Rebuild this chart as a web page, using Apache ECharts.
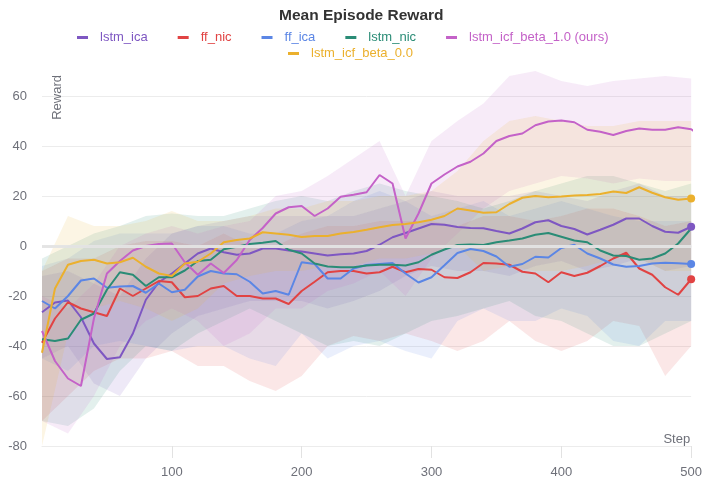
<!DOCTYPE html>
<html>
<head>
<meta charset="utf-8">
<title>Mean Episode Reward</title>
<script src="https://cdn.jsdelivr.net/npm/echarts@6/dist/echarts.min.js"></script>
<style>
html, body { margin: 0; padding: 0; background: #fff; }
#chart { width: 705px; height: 482px; }
</style>
</head>
<body>
<div id="chart"></div>
<script>
// x positions of the mean curves (every 10 steps) and of the spread bands (every 20 steps)
const steps = [0, 10, 20, 30, 40, 50, 60, 70, 80, 90, 100, 110, 120, 130, 140, 150, 160, 170, 180, 190, 200,
  210, 220, 230, 240, 250, 260, 270, 280, 290, 300, 310, 320, 330, 340, 350, 360, 370, 380, 390, 400,
  410, 420, 430, 440, 450, 460, 470, 480, 490, 500]
const bandSteps = [0, 20, 40, 60, 80, 100, 120, 140, 160, 180, 200, 220, 240, 260, 280, 300, 320, 340, 360, 380, 400, 420, 440, 460, 480, 500]

const names = ['lstm_ica', 'ff_nic', 'ff_ica', 'lstm_nic', 'lstm_icf_beta_1.0 (ours)', 'lstm_icf_beta_0.0']
const colors = ['#7e57c2', '#e14343', '#5b86e5', '#2a8c76', '#c462c8', '#ebb02d']

// mean reward
const lstmIca = [-26.5, -22.6, -21.8, -28.5, -39, -45.2, -44.5, -35, -21.5, -14.5, -11, -7, -3, -1, -2.5, -3.5, -3, -1, -1, -1.8, -2.2,
  -3, -3.8, -3.3, -3, -2, 0.5, 3.5, 5.2, 7, 8.8, 8.5, 7.6, 7.2, 7.1, 6, 5, 7, 9.5, 10.3, 8,
  6.8, 4.6, 6.5, 8.5, 11, 11, 8, 5.7, 5.3, 7.7]
const ffNic = [-38.7, -29, -22.5, -25, -26.5, -28, -17, -20, -17, -14, -14.5, -20.5, -20, -17, -16, -20, -20, -21, -21, -23.2, -18,
  -14.3, -10.5, -10, -10, -11, -10.5, -8.3, -10.5, -9.2, -9.5, -12.5, -12.8, -10.5, -6.8, -7, -7.5, -10.3, -11, -14.5, -10.5,
  -12, -10.7, -8, -5, -2.7, -9, -11.5, -16.5, -19.5, -13.3]
const ffIca = [-22, -25, -20, -13.8, -13, -16.7, -16.2, -16, -18.7, -15, -18.5, -17.5, -12.2, -10, -11, -11.3, -14.3, -19, -18, -19.5, -6.5,
  -7.2, -13, -13, -9, -7.6, -7.2, -6.8, -11, -14.6, -12.5, -7.7, -2.8, -1.2, -2, -4.2, -8.3, -7.2, -4.3, -4.6, -0.8,
  0.5, -3, -5, -7.4, -8.3, -8, -7, -6.7, -6.9, -7.2]
const lstmNic = [-37.3, -38, -37, -29.5, -27, -17.5, -10.5, -11.5, -16, -12.5, -12.5, -9.8, -6, -5.5, -1.3, -0.3, 0.8, 1.3, 2, -1.5, -3,
  -7, -8.2, -8.5, -8.5, -7.8, -7.5, -7.5, -7.8, -6.5, -3.5, -1.4, 0.4, 0.6, 0.4, 1.5, 2.2, 3, 4.5, 5.2, 3.7,
  2.2, 1.5, -1.8, -3.8, -4, -5.5, -5, -3, 1, 7]
const icfBeta10 = [-34, -46, -53, -56, -29, -11, -6, -1.8, 0, 0.8, 1, -6.5, -11.5, -7, -10.8, -5.6, 2.4, 7.2, 13, 15.5, 16,
  12, 15, 19.7, 20.5, 21.5, 28.4, 25, 3, 13, 25, 28.6, 31.8, 33.7, 37, 42, 44, 45, 48.3, 49.8, 50.2,
  49.5, 46.5, 45.7, 44.4, 46, 47, 46.5, 46.5, 47.5, 46.7]
const icfBeta00 = [-42.7, -17, -7.5, -6, -5.5, -7, -6.5, -4.7, -8.3, -11, -12, -7, -6.3, -3, 1.5, 2.4, 3, 5.5, 5, 4.5, 3.6,
  4, 4, 5, 5.6, 6.5, 7.5, 8.4, 8.8, 9.5, 10.5, 12, 15, 14.2, 13.3, 13.5, 16.8, 19.3, 20, 19.5, 19.8,
  20.2, 20.4, 20.8, 21.8, 21.2, 23.5, 21.3, 19.5, 18.5, 19]

// two curves run a little past the last tick
const tailStep = 506
const lstmNicTail = 9
const icfBeta10Tail = 44.5

// spread bands (low / high)
const lstmIcaLow = [-45, -40, -55, -60, -45, -35, -28, -25, -22, -22, -22, -25, -22, -18, -12, -8, -10, -10, -12, -8, -6, -10, -8, -5, -10, -8]
const lstmIcaHigh = [-12, -10, -15, -20, -5, 5, 8, 10, 12, 12, 12, 12, 12, 15, 18, 22, 20, 20, 20, 22, 20, 18, 22, 25, 20, 20]
const ffNicLow = [-70, -60, -50, -45, -45, -42, -48, -48, -54, -58, -52, -40, -36, -38, -35, -38, -42, -38, -30, -38, -42, -38, -30, -32, -52, -40]
const ffNicHigh = [-10, -5, -5, 0, 2, 2, 0, 5, 0, 0, 5, 8, 8, 10, 10, 10, 8, 12, 12, 10, 12, 15, 15, 12, 8, 10]
const ffIcaLow = [-45, -50, -40, -38, -40, -42, -40, -40, -45, -48, -35, -45, -40, -38, -42, -45, -30, -25, -30, -30, -25, -28, -38, -40, -30, -30]
const ffIcaHigh = [-8, -5, 2, 5, 5, 5, 8, 8, 5, 5, 10, 12, 18, 22, 18, 12, 15, 18, 12, 15, 18, 15, 12, 10, 10, 10]
const lstmNicLow = [-70, -72, -65, -50, -40, -42, -35, -30, -25, -30, -35, -40, -38, -40, -35, -30, -28, -25, -22, -28, -30, -35, -40, -40, -35, -30]
const lstmNicHigh = [-5, 0, 5, 8, 12, 13, 12, 12, 15, 18, 20, 18, 22, 25, 22, 20, 18, 15, 18, 22, 25, 28, 28, 25, 22, 25]
const icfBeta10Low = [-70, -75, -60, -40, -30, -25, -30, -40, -35, -25, -25, -18, -15, -10, -20, -5, 5, 15, 22, 25, 28, 27, 25, 27, 26, 26]
const icfBeta10High = [-20, -25, -15, 0, 5, 8, 5, 8, 10, 20, 22, 28, 35, 42, 20, 42, 50, 57, 68, 70, 66, 64, 66, 67, 68, 67]
const icfBeta00Low = [-80, -35, -25, -22, -25, -30, -25, -15, -12, -10, -10, -8, -8, -5, -5, -3, 0, -10, -8, -10, -10, -8, -5, -5, -10, -10]
const icfBeta00High = [-10, 12, 8, 8, 10, 14, 10, 10, 12, 15, 15, 18, 18, 20, 20, 22, 30, 42, 50, 52, 50, 48, 48, 50, 50, 50]

const yTicks = { min: -80, max: 72, interval: 20 }
const xTicks = { min: 0, max: 500, interval: 100 }

const means = [lstmIca, ffNic, ffIca, lstmNic, icfBeta10, icfBeta00]
const tails = [null, null, null, lstmNicTail, icfBeta10Tail, null]
const lows = [lstmIcaLow, ffNicLow, ffIcaLow, lstmNicLow, icfBeta10Low, icfBeta00Low]
const highs = [lstmIcaHigh, ffNicHigh, ffIcaHigh, lstmNicHigh, icfBeta10High, icfBeta00High]

let myChart = echarts.init(document.getElementById('chart'))

const series = []
// mean lines (first, so the legend takes their colour)
names.forEach((name, i) => {
  const data = steps.map((s, k) => [s, means[i][k]])
  if (tails[i] !== null) {
    data.push([tailStep, tails[i]])
  } else {
    // dot on the last point
    const last = data.length - 1
    data[last] = { value: data[last], symbol: 'circle', symbolSize: 8 }
  }
  series.push({
    name: name,
    type: 'line',
    data: data,
    symbol: 'none',
    showSymbol: true,
    showAllSymbol: true,
    clip: tails[i] === null,
    z: 3,
    itemStyle: { color: colors[i] },
    lineStyle: { color: colors[i], width: 2 },
    emphasis: { disabled: true }
  })
})
// zero line on top of everything
series[5].markLine = {
  silent: true,
  symbol: ['none', 'none'],
  label: { show: false },
  lineStyle: { color: '#e4e4e4', width: 3, type: 'solid', opacity: 0.95 },
  data: [{ yAxis: 0 }],
  z: 6
}
// spread bands: one polygon per series (upper edge, then lower edge back)
names.forEach((name, i) => {
  series.push({
    name: name,
    type: 'custom',
    data: bandSteps.map((s, k) => [s, lows[i][k], highs[i][k]]),
    encode: { x: 0, y: [1, 2] },
    silent: true,
    z: 1,
    renderItem: function (params, api) {
      if (params.dataIndex !== 0) return null
      const pts = []
      for (let k = 0; k < bandSteps.length; k++) pts.push(api.coord([bandSteps[k], highs[i][k]]))
      for (let k = bandSteps.length - 1; k >= 0; k--) pts.push(api.coord([bandSteps[k], lows[i][k]]))
      return {
        type: 'polygon',
        shape: { points: pts },
        style: { fill: colors[i], opacity: 0.13 }
      }
    }
  })
})

const legendItem = (i) => ({ name: names[i], itemStyle: { color: colors[i] }, textStyle: { color: colors[i] } })
const legendBase = {
  icon: 'rect',
  itemWidth: 11,
  itemHeight: 3,
  itemGap: 30,
  orient: 'horizontal',
  textStyle: { fontSize: 13, padding: [0, 0, 0, 7] }
}

const option = {
  animation: false,
  textStyle: { fontFamily: 'Liberation Sans, Arial, sans-serif' },
  title: {
    text: 'Mean Episode Reward',
    left: 274,
    top: 3,
    textStyle: { fontSize: 15.5, fontWeight: 'bold', color: '#333' }
  },
  legend: [
    Object.assign({}, legendBase, { left: 72, top: 26, data: [0, 1, 2, 3, 4].map(legendItem) }),
    Object.assign({}, legendBase, { left: 283, top: 42, data: [5].map(legendItem) })
  ],
  grid: { left: 42, right: 8, top: 66, bottom: 36, containLabel: false },
  xAxis: {
    type: 'value',
    min: xTicks.min,
    max: xTicks.max,
    interval: xTicks.interval,
    name: 'Step',
    nameLocation: 'end',
    nameGap: -1,
    nameTextStyle: { color: '#6e7079', fontSize: 13, align: 'right', verticalAlign: 'bottom', padding: [0, 0, 0, 0] },
    axisLine: { show: true, onZero: false, lineStyle: { color: '#ececec' } },
    axisTick: { show: true, length: 12, lineStyle: { color: '#e2e2e2' } },
    axisLabel: { showMinLabel: false, color: '#6e7079', fontSize: 13, margin: 20 },
    splitLine: { show: false }
  },
  yAxis: {
    type: 'value',
    min: yTicks.min,
    max: yTicks.max,
    interval: yTicks.interval,
    name: 'Reward',
    nameLocation: 'end',
    nameRotate: 90,
    nameGap: -9,
    nameTextStyle: { color: '#6e7079', fontSize: 13, align: 'right', verticalAlign: 'top', padding: [9, 0, 0, 0] },
    axisLine: { show: false },
    axisTick: { show: false },
    axisLabel: { showMaxLabel: false, color: '#6e7079', fontSize: 13, margin: 15 },
    splitLine: { show: true, showMaxLine: false, lineStyle: { color: '#ececec' } }
  },
  series: series
}
myChart.setOption(option)
</script>
</body>
</html>
